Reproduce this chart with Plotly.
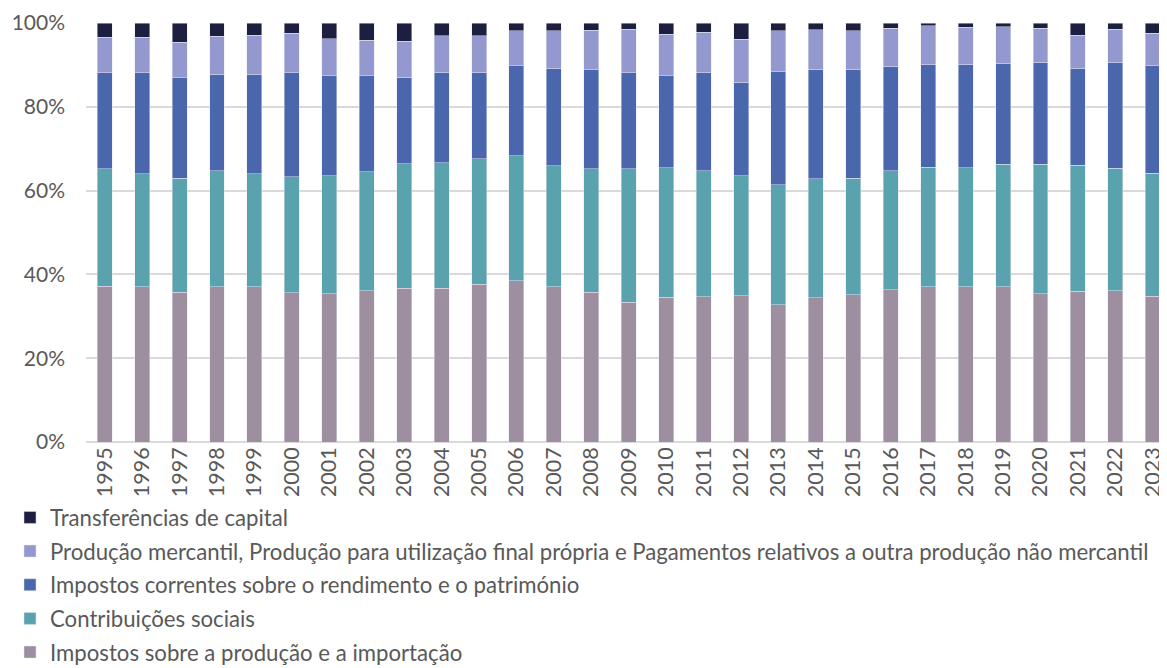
import plotly.graph_objects as go

years = [str(y) for y in range(1995, 2024)]

impostos_producao = [37.2, 37.0, 35.7, 37.1, 37.1, 35.6, 35.4, 36.1, 36.7, 36.7,
                     37.6, 38.5, 37.1, 35.7, 33.3, 34.5, 34.7, 34.9, 32.8, 34.4,
                     35.2, 36.3, 37.0, 37.0, 37.1, 35.4, 36.0, 36.1, 34.8]
contribuicoes = [28.0, 27.0, 27.3, 27.6, 26.9, 27.7, 28.2, 28.4, 29.7, 30.0,
                 30.0, 29.8, 28.8, 29.5, 31.9, 30.9, 30.0, 28.6, 28.6, 28.4,
                 27.8, 28.4, 28.6, 28.4, 29.2, 30.9, 30.1, 29.2, 29.4]
impostos_correntes = [22.9, 24.1, 23.9, 23.1, 23.8, 24.8, 23.8, 22.9, 20.6, 21.6,
                      20.7, 21.5, 23.3, 23.7, 22.9, 22.0, 23.6, 22.4, 27.0, 26.2,
                      26.0, 25.0, 24.6, 24.7, 24.1, 24.3, 23.1, 25.3, 25.7]
producao_mercantil = [8.5, 8.5, 8.5, 9.0, 9.3, 9.5, 8.8, 8.5, 8.7, 8.7,
                      8.6, 8.3, 8.9, 9.4, 10.4, 9.9, 9.5, 10.2, 9.7, 9.4,
                      9.2, 9.1, 9.1, 8.9, 8.7, 8.1, 7.9, 7.9, 7.6]
transferencias = [3.4, 3.4, 4.6, 3.2, 2.9, 2.4, 3.8, 4.1, 4.3, 3.0,
                  3.1, 1.9, 1.9, 1.7, 1.5, 2.7, 2.2, 3.9, 1.9, 1.6,
                  1.8, 1.2, 0.7, 1.0, 0.9, 1.3, 2.9, 1.5, 2.5]

series = [
    ("Impostos sobre a produção e a importação", impostos_producao, "#9d8fa0"),
    ("Contribuições sociais", contribuicoes, "#5aa3ae"),
    ("Impostos correntes sobre o rendimento e o património", impostos_correntes, "#4a67ad"),
    ("Produção mercantil, Produção para utilização final própria e Pagamentos relativos a outra produção não mercantil",
     producao_mercantil, "#9398ce"),
    ("Transferências de capital", transferencias, "#1c1f40"),
]

FONT = "Lato"
TXT = "#595959"

fig = go.Figure()
n = len(series)
for i, (name, vals, color) in enumerate(series):
    fig.add_trace(go.Bar(
        x=years, y=vals, name=name, legendgroup=f"g{i}", legendrank=n - i,
        marker=dict(color=color, line=dict(color="rgba(230,230,245,0.8)", width=0.6)),
    ))

fig.update_layout(
    barmode="stack",
    barnorm="percent",
    bargap=0.6,
    width=1159, height=660,
    margin=dict(l=78, r=0, t=15, b=226, autoexpand=False),
    plot_bgcolor="white", paper_bgcolor="white",
    font=dict(family=FONT, size=21, color=TXT),
    showlegend=True,
    legend=dict(
        orientation="v", x=-0.0703, xanchor="left", y=-0.130, yanchor="top",
        traceorder="grouped", tracegroupgap=1.8,
        font=dict(family=FONT, size=22.2, color=TXT),
        itemclick=False, itemdoubleclick=False,
    ),
    xaxis=dict(
        type="category", tickangle=-90, showgrid=False, showline=False,
        ticks="", range=[-0.5, 28.38], automargin=False,
        tickfont=dict(family=FONT, size=21.5, color=TXT),
    ),
    yaxis=dict(
        range=[0, 100], tickvals=[0, 20, 40, 60, 80, 100],
        ticktext=["0%", "20%", "40%", "60%", "80%", "100%"],
        showgrid=True, gridcolor="#d9d9d9", gridwidth=1.5,
        zeroline=True, zerolinecolor="#d9d9d9", zerolinewidth=1.5,
        showline=False, ticks="", ticklabelstandoff=20, automargin=False,
        tickfont=dict(family=FONT, size=21, color=TXT),
    ),
)

fig.write_html("out.html")
